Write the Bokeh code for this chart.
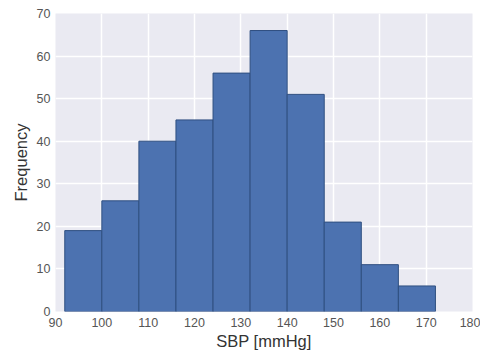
from bokeh.plotting import figure
from bokeh.models import FixedTicker, ColumnDataSource
from bokeh.embed import file_html
from bokeh.resources import INLINE

bin_edges = [92, 100, 108, 116, 124, 132, 140, 148, 156, 164, 172]
counts = [19, 26, 40, 45, 56, 66, 51, 21, 11, 6]
x_ticks = [90, 100, 110, 120, 130, 140, 150, 160, 170, 180]
y_ticks = [0, 10, 20, 30, 40, 50, 60, 70]

src = ColumnDataSource(dict(left=bin_edges[:-1], right=bin_edges[1:],
                            top=counts, bottom=[0] * len(counts)))

p = figure(width=480, height=352, output_backend="svg", toolbar_location=None,
           x_range=(90, 180), y_range=(0, 70),
           min_border_left=55, min_border_top=13, min_border_right=8, min_border_bottom=40)

p.quad(left="left", right="right", top="top", bottom="bottom", source=src,
       fill_color="#4C72B0", line_color="#2F4F80", line_width=1)

p.background_fill_color = "#EAEAF2"
p.border_fill_color = "white"
p.outline_line_color = None

for ax in (p.xaxis[0], p.yaxis[0]):
    ax.axis_line_color = None
    ax.major_tick_line_color = None
    ax.minor_tick_line_color = None
    ax.major_tick_out = 0
    ax.major_tick_in = 0
    ax.minor_tick_out = 0
    ax.minor_tick_in = 0
    ax.major_label_text_font = "Liberation Sans"
    ax.major_label_text_font_size = "12.5px"
    ax.major_label_text_color = "#555555"
    ax.axis_label_text_font = "Liberation Sans"
    ax.axis_label_text_font_size = "16.5px"
    ax.axis_label_text_font_style = "normal"
    ax.axis_label_text_color = "#333333"

p.xaxis.ticker = FixedTicker(ticks=x_ticks)
p.yaxis.ticker = FixedTicker(ticks=y_ticks)
p.xaxis.axis_label = "SBP [mmHg]"
p.yaxis.axis_label = "Frequency"
p.xaxis.major_label_standoff = 6
p.yaxis.major_label_standoff = 5
p.xaxis.axis_label_standoff = 2
p.yaxis.axis_label_standoff = 4

p.grid.grid_line_color = "white"
p.grid.grid_line_width = 1.5
p.grid.level = "image"

open("out.html", "w").write(file_html(p, INLINE))
